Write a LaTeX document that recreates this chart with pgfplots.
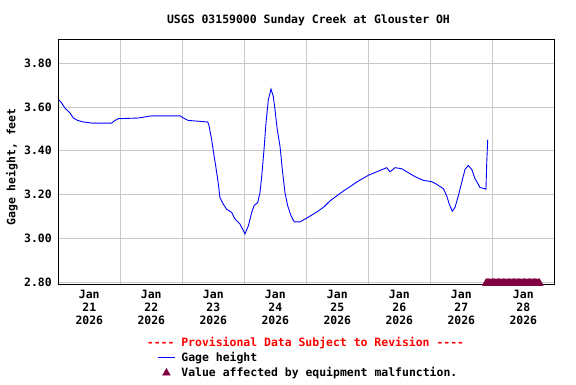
\documentclass[border=0pt]{standalone}
\usepackage{fontspec}
\setmainfont{DejaVu Sans Mono}
\usepackage{pgfplots}
\pgfplotsset{compat=1.18}
\definecolor{gageblue}{RGB}{0,0,255}
\definecolor{malf}{RGB}{128,0,64}
\definecolor{gridgray}{RGB}{200,200,200}
\newcommand{\tf}{\fontsize{11.5}{13}\selectfont\bfseries}
\newcommand{\dsh}{-{}-{}-{}-}
\begin{document}
\begin{tikzpicture}[x=1bp,y=1bp]
\useasboundingbox (0,0) rectangle (576,384);
\begin{axis}[
  at={(58.3bp,100bp)}, anchor=south west,
  scale only axis, width=496bp, height=244.7bp,
  xmin=0, xmax=8, ymin=2.791, ymax=3.910,
  axis line style={line width=0.8bp, black},
  major tick length=0, minor tick length=0,
  xtick={1,2,3,4,5,6,7}, xticklabels={},
  extra x ticks={0.5,1.5,2.5,3.5,4.5,5.5,6.5,7.5},
  extra x tick labels={Jan\\21\\2026,Jan\\22\\2026,Jan\\23\\2026,Jan\\24\\2026,Jan\\25\\2026,Jan\\26\\2026,Jan\\27\\2026,Jan\\28\\2026},
  extra x tick style={grid=none, xticklabel style={align=center, font=\tf, yshift=-3bp}},
  ytick={2.8,3.0,3.2,3.4,3.6,3.8},
  yticklabels={2.80,3.00,3.20,3.40,3.60,3.80},
  yticklabel style={font=\tf, xshift=-3bp},
  xmajorgrids, ymajorgrids,
  grid style={gridgray, line width=0.8bp},
  legend style={at={(0.1996,-0.270)}, anchor=north west, draw=none, fill=none, font=\tf, row sep=0.5bp, inner sep=0bp,
    column sep=4bp},
  legend cell align=left,
]
\addplot[gageblue, line width=0.9bp] coordinates {
(0.011,3.633)(0.055,3.618)(0.108,3.595)(0.189,3.573)(0.242,3.550)(0.313,3.539)
(0.403,3.532)(0.539,3.527)(0.861,3.527)(0.915,3.539)(0.968,3.547)(1.290,3.550)
(1.506,3.560)(1.963,3.560)(2.016,3.550)(2.097,3.539)(2.410,3.532)(2.431,3.515)
(2.474,3.450)(2.500,3.400)(2.539,3.330)(2.571,3.270)(2.608,3.186)(2.661,3.156)
(2.716,3.133)(2.797,3.118)(2.850,3.088)(2.931,3.065)(3.011,3.020)(3.065,3.057)
(3.119,3.118)(3.161,3.151)(3.216,3.163)(3.253,3.209)(3.281,3.284)(3.318,3.406)
(3.350,3.527)(3.387,3.633)(3.431,3.682)(3.468,3.648)(3.495,3.588)(3.532,3.497)
(3.576,3.421)(3.613,3.315)(3.656,3.209)(3.700,3.148)(3.753,3.103)(3.806,3.075)
(3.898,3.075)(3.979,3.088)(4.087,3.106)(4.194,3.125)(4.290,3.145)(4.382,3.171)
(4.490,3.194)(4.597,3.216)(4.705,3.236)(4.839,3.262)(5.000,3.288)(5.135,3.304)
(5.297,3.323)(5.350,3.304)(5.431,3.323)(5.539,3.318)(5.645,3.300)(5.753,3.282)
(5.887,3.265)(6.023,3.259)(6.103,3.247)(6.210,3.227)(6.265,3.194)(6.306,3.156)
(6.355,3.124)(6.398,3.141)(6.452,3.194)(6.506,3.255)(6.560,3.315)(6.613,3.333)
(6.668,3.315)(6.721,3.273)(6.802,3.232)(6.882,3.227)(6.898,3.224)(6.910,3.345)
(6.926,3.451)
};
\addlegendentry{Gage height}
\addplot[only marks, mark=triangle*, mark size=4.5bp, color=malf, mark options={fill=malf, draw=malf}] coordinates {
(6.90,2.795)(6.92,2.795)(6.94,2.795)(6.96,2.795)(6.98,2.795)(7.00,2.795)
(7.02,2.795)(7.04,2.795)(7.06,2.795)(7.08,2.795)(7.10,2.795)(7.12,2.795)
(7.14,2.795)(7.16,2.795)(7.18,2.795)(7.20,2.795)(7.22,2.795)(7.24,2.795)
(7.26,2.795)(7.28,2.795)(7.30,2.795)(7.32,2.795)(7.34,2.795)(7.36,2.795)
(7.38,2.795)(7.40,2.795)(7.42,2.795)(7.44,2.795)(7.46,2.795)(7.48,2.795)
(7.50,2.795)(7.52,2.795)(7.54,2.795)(7.56,2.795)(7.58,2.795)(7.60,2.795)
(7.62,2.795)(7.64,2.795)(7.66,2.795)(7.68,2.795)(7.70,2.795)(7.72,2.795)
(7.74,2.795)(7.76,2.795)
};
\addlegendentry{Value affected by equipment malfunction.}
\end{axis}
\node[font=\tf] at (308.5,363.5) {USGS 03159000 Sunday Creek at Glouster OH};
\node[font=\tf, rotate=90] at (12,217) {Gage height, feet};
\node[font=\tf, text=red] at (305.5,40.5) {\dsh{} Provisional Data Subject to Revision \dsh};
\end{tikzpicture}
\end{document}
